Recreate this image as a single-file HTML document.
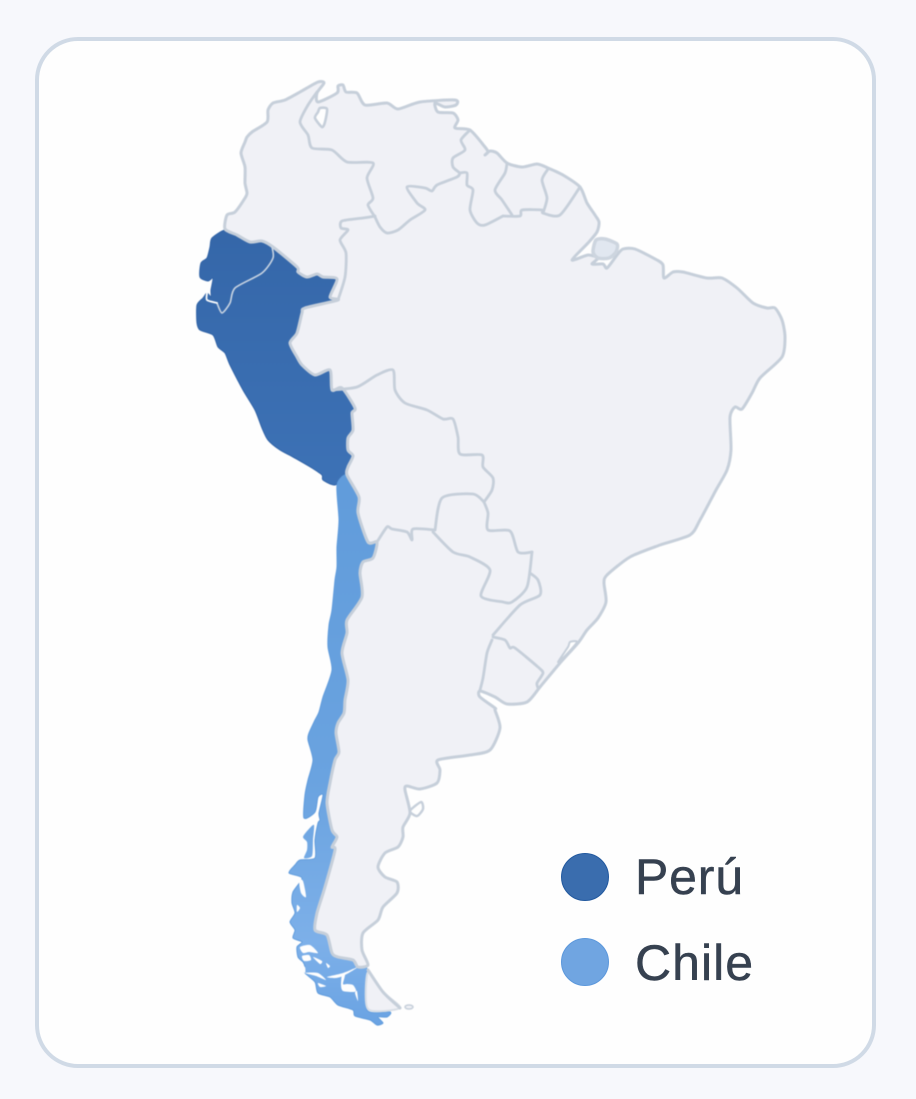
<!DOCTYPE html>
<html lang="es">
<head>
<meta charset="utf-8">
<title>Perú y Chile</title>
<style>
html,body{margin:0;padding:0;width:916px;height:1099px;overflow:hidden;background:#f7f8fc}
svg{display:block;position:absolute;left:0;top:0}
text{font-family:"Liberation Sans",sans-serif;font-size:50px;fill:#364150;stroke:#364150;stroke-width:.5px}
#map{filter:blur(.45px)}
</style>
</head>
<body>
<svg width="916" height="1099" viewBox="0 0 916 1099" xmlns="http://www.w3.org/2000/svg">
<defs>
<linearGradient id="pg" gradientUnits="userSpaceOnUse" x1="0" y1="230" x2="0" y2="485"><stop offset="0" stop-color="#3567a9"/><stop offset="1" stop-color="#3d72b6"/></linearGradient>
<linearGradient id="cg" gradientUnits="userSpaceOnUse" x1="0" y1="475" x2="0" y2="1025"><stop offset="0" stop-color="#619cdb"/><stop offset=".55" stop-color="#6aa3e0"/><stop offset=".85" stop-color="#7db0e9"/><stop offset="1" stop-color="#6aa3e3"/></linearGradient>
</defs>
<rect x="37" y="39" width="837" height="1027" rx="41" ry="41" fill="#fefefe" stroke="#d0dae6" stroke-width="4"/>

<g id="map" stroke-linejoin="round" stroke-linecap="round">
<path fill="url(#pg)" stroke="#2f62a6" stroke-width="1" d="M225,230 L212,238 210,247 207,258 201,263 200,277 208,281 213,278 211,290 211,297 207,293 203,298 197,305 197,323 200,330 213,335 218,347 225,353 230,365 243,390 255,410 262,428 268,440 280,450 293,457 312,468 322,475 323,480 335,485 347,475 348,467 353,456 348,450 348,438 353,430 352,413 355,408 342,388 332,390 330,370 315,375 302,365 297,357 290,343 297,333 302,313 305,308 338,300 330,297 337,279 323,277 317,274 307,277 298,272 297,267 273,247 262,241 250,242 237,235 Z"/>
<path fill="url(#cg)" stroke="#5f9bdc" stroke-width="1" d="M347,475 L359,497 358,513 368,542 377,542 373,558 363,562 360,573 362,597 347,620 347,633 342,653 348,680 345,700 344,713 338,723 336,733 339,752 335,760 330,783 327,803 332,830 337,837 332,847 335,850 325,887 317,913 315,930 327,935 332,953 338,957 353,960 358,967 367,969 367,1010 390,1012 387,1017 378,1017 383,1023 377,1025 370,1020 355,1016 353,1010 338,1005 330,997 318,993 315,982 305,973 305,967 303,962 298,957 297,947 302,942 293,938 295,930 290,922 295,913 292,903 293,892 302,878 289,873 295,865 300,860 315,858 315,840 318,823 320,820 319,813 323,795 318,797 315,812 304,818 305,795 308,780 313,760 308,740 309,733 315,720 319,712 323,697 332,670 328,647 329,625 332,610 335,580 337,567 337,547 339,520 337,485 Z"/>
<path fill="url(#cg)" d="M314,825 L308,830 303,837 307,842 307,850 304,858 312,856 313,840 Z"/>
<g fill="#fefefe">
<path d="M299,880 L303,881 306,897 301,893 Z"/>
<path d="M300,947 L310,945 318,953 309,952 303,953 Z"/>
<path d="M302,956 L309,955 311,960 304,961 Z"/>
<path d="M313,957 L322,961 320,964 Z"/>
<path d="M326,963 L330,966 328,968 Z"/>
<path d="M327,977 L343,973 358,967 345,975 336,978 Z"/>
<path d="M342,974 L345,975 343,984 347,984 353,985 356,990 354,992 343,991 341,985 Z"/>
<path d="M357,991 L358,1001 355,993 Z"/>
<path d="M300,966 L305,967 305,973 Z"/>
<path d="M305,973 L318,973 326,980 316,976 Z"/>
<path d="M318,983 L326,986 320,987 Z"/>
<path d="M297,905 L300,908 297,912 Z"/>
</g>

<path fill="#f0f1f6" stroke="#c6cfda" stroke-width="3" d="M225,229 L227,215 235,212 245,198 247,193 245,183 245,167 241,153 245,142 247,137 252,132 267,122 268,110 273,103 285,100 300,92 318,82 324,83 317,93 318,102 337,93 338,86 343,85 346,92 357,93 365,105 387,103 398,109 420,102 455,100 456,105 445,107 435,103 438,112 453,113 458,120 455,128 470,130 485,147 488,152 485,155 490,151 497,153 507,163 522,167 537,164 548,168 563,175 580,187 587,203 595,215 599,222 597,232 588,243 572,260 588,255 598,258 592,264 603,264 607,268 617,255 623,249 635,249 657,260 663,265 664,278 673,272 683,272 707,278 722,278 737,288 753,303 767,308 775,308 782,320 785,337 782,357 760,378 752,393 742,409 735,407 730,417 731,450 727,470 716,490 700,520 690,535 660,545 630,557 607,575 604,583 606,602 598,618 587,630 578,643 560,663 540,687 527,702 507,704 495,697 480,691 480,697 495,708 495,710 500,728 490,750 470,755 438,760 440,770 437,783 420,789 407,786 405,790 410,813 403,827 403,837 398,847 385,853 378,867 385,877 397,882 397,893 383,907 378,920 363,933 362,950 368,965 358,967 353,960 338,957 332,953 327,935 315,930 317,913 325,887 335,850 332,847 337,837 332,830 327,803 330,783 335,760 339,752 336,733 338,723 344,713 345,700 348,680 342,653 347,633 347,620 362,597 360,573 363,562 373,558 377,542 368,542 358,513 359,497 347,475 348,467 353,456 348,450 348,438 353,430 352,413 355,408 342,388 332,390 330,370 315,375 302,365 297,357 290,343 297,333 302,313 305,308 338,300 330,297 337,279 323,277 317,274 307,277 298,272 297,267 273,247 262,241 250,242 237,235 Z"/>
<path fill="#f0f1f6" stroke="#d8dee6" stroke-width="2" d="M368,972 L383,992 400,1008 368,1009 Z"/>
<path fill="none" stroke="#c6cfda" stroke-width="3" d="M368,970 L383,992 400,1008"/>
<ellipse cx="409" cy="1007" rx="4" ry="2" fill="#f0f1f6" stroke="#c6cfda" stroke-width="1.5"/>
<path fill="#fefefe" stroke="#c6cfda" stroke-width="2.6" d="M320,108 L327,109 325,122 322,127 315,118 318,112 Z"/>
<path fill="#e1e7f0" stroke="#cdd5df" stroke-width="3.5" d="M596,240 L605,239 617,244 616,252 609,258 598,258 593,252 Z"/>
<path fill="#fefefe" fill-opacity=".6" stroke="#c6cfda" stroke-width="2.4" d="M410,811 L421,802 423,809 417,816 Z"/>
<path fill="#fefefe" stroke="#c6cfda" stroke-width="2" d="M577,642 L570,642 568,647 558,662 566,655 Z"/>
<g fill="none" stroke="#c6cfda" stroke-width="2.8">
<path d="M317,92 L308,105 300,122 308,135 312,148 332,150 347,162 373,163 367,178 373,198 368,205 375,217"/>
<path d="M375,216 L363,218 342,221 341,228 348,230 340,240 346,253 345,277 338,300"/>
<path d="M375,217 L380,227 387,233 398,230 410,220 425,210 417,203 407,187 425,188 432,191 437,185 457,177 460,173"/>
<path d="M460,173 L453,167 453,158 465,150 461,140 470,130"/>
<path d="M460,173 L467,173 467,185 473,190 470,210 477,223 485,225 503,216"/>
<path d="M507,163 L505,173 495,190 502,200 512,215"/>
<path d="M503,216 L520,216 522,210 542,210 543,213 560,215 580,187"/>
<path d="M548,169 L542,180 547,198 543,213"/>
<path d="M332,390 L357,387 377,375 393,370 395,390 405,403 427,410 443,419 453,419 458,437 460,454 482,455 483,467 493,478 492,490 484,502"/>
<path d="M484,502 L473,494 442,498 435,530"/>
<path d="M435,530 L413,529 412,540 407,532 392,529 387,527 377,542"/>
<path d="M433,532 L453,552 470,557 490,570 481,596 503,602 512,602 527,587 532,552"/>
<path d="M484,502 L488,513 488,530 510,531 518,552 532,552"/>
<path d="M530,573 L538,580 540,595 520,605 493,635"/>
<path d="M493,637 L505,640 510,648 515,648 538,667 543,673 537,683 538,688"/>
<path d="M492,640 L487,653 483,678 480,690"/>
</g>
<path fill="none" stroke="#c8d4e2" stroke-width="1.6" d="M272,247 L273,258 262,273 235,288 230,303 222,313 217,303"/>
<path fill="none" stroke="#fefefe" stroke-width="1.8" d="M217,303 L207,300 207,293"/>
</g>

<g>
<circle cx="585" cy="877" r="23.5" fill="#3a6dae" stroke="#22599f" stroke-width="1"/>
<text x="635" y="894" textLength="108">Perú</text>
<circle cx="585" cy="962" r="23.5" fill="#70a5e1" stroke="#5c98dc" stroke-width="1"/>
<text x="635" y="980" textLength="118">Chile</text>
</g>
</svg>
<script>
// Round the traced polylines into smooth coastline curves.
document.querySelectorAll('#map path').forEach(function (path) {
  var d = path.getAttribute('d');
  var closed = /Z\s*$/.test(d);
  var nums = d.match(/-?\d+(\.\d+)?/g).map(Number);
  var pts = [];
  for (var i = 0; i + 1 < nums.length; i += 2) pts.push([nums[i], nums[i + 1]]);
  var n = pts.length;
  var at = function (i) {
    return closed ? pts[(i + n) % n] : pts[Math.max(0, Math.min(n - 1, i))];
  };
  var k = 1 / 8;
  var out = 'M' + pts[0][0] + ',' + pts[0][1];
  var last = closed ? n : n - 1;
  for (var j = 0; j < last; j++) {
    var p0 = at(j - 1), p1 = at(j), p2 = at(j + 1), p3 = at(j + 2);
    out += ' C' + (p1[0] + (p2[0] - p0[0]) * k).toFixed(1) + ',' + (p1[1] + (p2[1] - p0[1]) * k).toFixed(1) +
      ' ' + (p2[0] - (p3[0] - p1[0]) * k).toFixed(1) + ',' + (p2[1] - (p3[1] - p1[1]) * k).toFixed(1) +
      ' ' + p2[0] + ',' + p2[1];
  }
  path.setAttribute('d', out + (closed ? ' Z' : ''));
});
</script>
</body>
</html>
